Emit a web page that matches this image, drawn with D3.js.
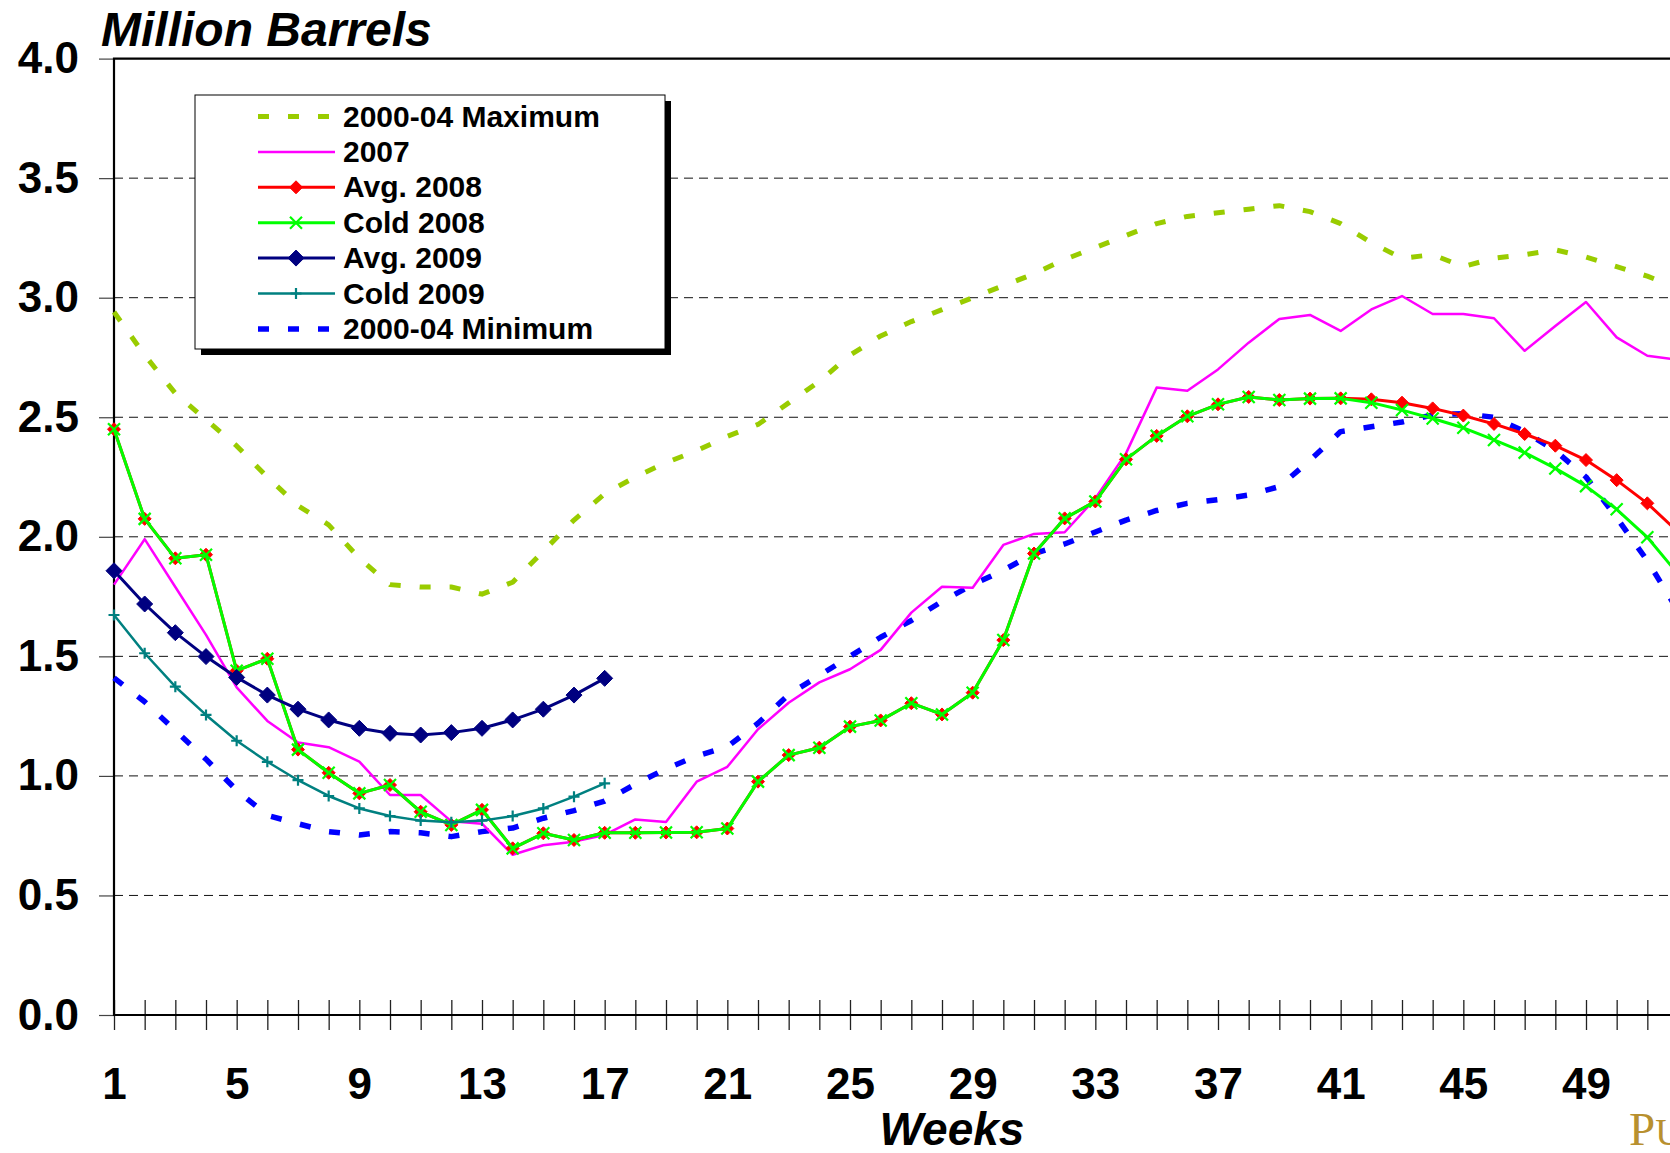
<!DOCTYPE html>
<html>
<head>
<meta charset="utf-8">
<script src="https://cdn.jsdelivr.net/npm/d3@7"></script>
<style>
body { margin: 0; background: #fff; }
svg { display: block; }
</style>
</head>
<body>
<div id="chart"></div>
<script>
// Weekly inventory, million barrels.
var weeks = d3.range(1, 53);
var xTickLabels = [1, 5, 9, 13, 17, 21, 25, 29, 33, 37, 41, 45, 49];
var yTicks = [0, 0.5, 1, 1.5, 2, 2.5, 3, 3.5, 4];
var gridValues = [0.5, 1, 1.5, 2, 2.5, 3, 3.5];

var max0004 = [2.94, 2.76, 2.60, 2.49, 2.38, 2.25, 2.13, 2.05, 1.91, 1.80,
    1.79, 1.79, 1.76, 1.81, 1.94, 2.07, 2.18, 2.25, 2.31, 2.36,
    2.42, 2.47, 2.56, 2.65, 2.76, 2.84, 2.90, 2.95, 3.00, 3.05,
    3.10, 3.16, 3.21, 3.26, 3.31, 3.34, 3.355, 3.37, 3.385, 3.36,
    3.31, 3.23, 3.165, 3.18, 3.13, 3.165, 3.18, 3.20, 3.17, 3.13,
    3.09, 3.04];

var min0004 = [1.41, 1.31, 1.19, 1.07, 0.94, 0.835, 0.80, 0.767, 0.753, 0.767,
    0.762, 0.746, 0.767, 0.782, 0.823, 0.855, 0.895, 0.965, 1.03, 1.083,
    1.122, 1.22, 1.34, 1.42, 1.50, 1.58, 1.65, 1.73, 1.80, 1.86,
    1.93, 1.97, 2.02, 2.07, 2.11, 2.14, 2.155, 2.175, 2.21, 2.32,
    2.44, 2.46, 2.48, 2.51, 2.515, 2.50, 2.44, 2.36, 2.25, 2.08,
    1.90, 1.69];

var y2007 = [1.80, 1.99, 1.79, 1.59, 1.37, 1.23, 1.14, 1.12, 1.06, 0.92,
    0.92, 0.81, 0.80, 0.67, 0.71, 0.725, 0.753, 0.818, 0.807, 0.976,
    1.038, 1.195, 1.306, 1.391, 1.446, 1.527, 1.683, 1.791, 1.787, 1.966,
    2.012, 2.019, 2.16, 2.349, 2.624, 2.611, 2.70, 2.812, 2.911, 2.928,
    2.861, 2.951, 3.007, 2.932, 2.932, 2.914, 2.778, 2.882, 2.982, 2.834,
    2.757, 2.74];

var avg2008 = [2.45, 2.075, 1.91, 1.925, 1.44, 1.49, 1.11, 1.013, 0.927, 0.962,
    0.85, 0.795, 0.858, 0.697, 0.76, 0.732, 0.762, 0.762, 0.763, 0.764,
    0.78, 0.976, 1.087, 1.118, 1.206, 1.232, 1.304, 1.257, 1.348, 1.568,
    1.93, 2.077, 2.148, 2.324, 2.422, 2.504, 2.554, 2.585, 2.572, 2.578,
    2.579, 2.575, 2.561, 2.537, 2.507, 2.472, 2.43, 2.381, 2.321, 2.237,
    2.14, 2.02];

var cold2008 = [2.45, 2.075, 1.91, 1.925, 1.44, 1.49, 1.11, 1.013, 0.927, 0.962,
    0.85, 0.795, 0.858, 0.697, 0.76, 0.732, 0.762, 0.762, 0.763, 0.764,
    0.78, 0.976, 1.087, 1.118, 1.206, 1.232, 1.304, 1.257, 1.348, 1.568,
    1.93, 2.077, 2.148, 2.324, 2.422, 2.504, 2.554, 2.585, 2.572, 2.578,
    2.579, 2.561, 2.530, 2.495, 2.456, 2.405, 2.352, 2.286, 2.212, 2.115,
    1.998, 1.844];

var avg2009 = [1.858, 1.719, 1.599, 1.499, 1.412, 1.338, 1.279, 1.234, 1.199, 1.178,
    1.171, 1.181, 1.199, 1.234, 1.279, 1.338, 1.408];

var cold2009 = [1.673, 1.513, 1.373, 1.255, 1.147, 1.059, 0.982, 0.916, 0.864, 0.832,
    0.813, 0.806, 0.813, 0.832, 0.864, 0.913, 0.969];

/* Layout and styling of the chart
** plot: pixel frame of the plotting area (right side runs off the picture)
*/
var config = {
    width: 1670,
    height: 1153,
    plot: { left: 114, right: 1678, top: 58.6, bottom: 1015 },
    font: '"Liberation Sans", Arial, Helvetica, sans-serif',
    tickFontSize: 44,
    legendFontSize: 30,
    legend: { x: 195, y: 95, width: 470, height: 254, shadow: 6, rowStart: 116.5, rowStep: 35.4 }
};

// series table, in drawing order; legendIndex is the position in the legend
var series = [
    { name: "2000-04 Maximum", values: max0004, color: "#99CC00", width: 5, dash: "11,19", marker: null, legendIndex: 0 },
    { name: "2000-04 Minimum", values: min0004, color: "#0000FF", width: 5.5, dash: "11,19", marker: null, legendIndex: 6 },
    { name: "2007", values: y2007, color: "#FF00FF", width: 2.5, dash: null, marker: null, legendIndex: 1 },
    { name: "Avg. 2008", values: avg2008, color: "#FF0000", width: 3, dash: null, marker: "diamond", size: 6.5, legendIndex: 2 },
    { name: "Cold 2008", values: cold2008, color: "#00FF00", width: 3, dash: null, marker: "x", size: 6, legendIndex: 3 },
    { name: "Avg. 2009", values: avg2009, color: "#000080", width: 3, dash: null, marker: "diamond", size: 8, legendIndex: 4 },
    { name: "Cold 2009", values: cold2009, color: "#008080", width: 2.5, dash: null, marker: "plus", size: 5.5, legendIndex: 5 }
];

// path for each marker kind, centred on 0,0
function markerPath(kind, s) {
    if (kind == "diamond") return "M0," + (-s) + "L" + s + ",0L0," + s + "L" + (-s) + ",0Z";
    if (kind == "x") return "M" + (-s) + "," + (-s) + "L" + s + "," + s + "M" + (-s) + "," + s + "L" + s + "," + (-s);
    return "M" + (-s) + ",0L" + s + ",0M0," + (-s) + "L0," + s;
}

function drawMarker(sel, d) {
    var filled = d.marker == "diamond";
    sel.attr("d", markerPath(d.marker, d.size))
        .attr("fill", filled ? d.color : "none")
        .attr("stroke", d.color)
        .attr("stroke-width", filled ? 1 : 2.2);
}

function draw(div) {
    var p = config.plot;
    var svg = d3.select(div).append("svg")
        .attr("width", config.width)
        .attr("height", config.height)
        .style("font-family", config.font);

    var x = d3.scaleLinear().domain([1, 52]).range([p.left, p.right]);
    var y = d3.scaleLinear().domain([0, 4]).range([p.bottom, p.top]);

    // dashed gridlines
    svg.append("g").selectAll("line")
        .data(gridValues)
        .enter().append("line")
        .attr("x1", p.left).attr("x2", config.width)
        .attr("y1", function (d) { return y(d); })
        .attr("y2", function (d) { return y(d); })
        .attr("stroke", "#111")
        .attr("stroke-width", 1)
        .attr("stroke-dasharray", "9,6");

    // y axis ticks and labels
    var yAxis = svg.append("g")
        .attr("transform", "translate(" + p.left + ",0)")
        .call(d3.axisLeft(y).tickValues(yTicks).tickSize(15).tickPadding(20).tickFormat(d3.format(".1f")));
    yAxis.select(".domain").remove();
    yAxis.selectAll(".tick line").attr("stroke", "#444").attr("stroke-width", 1.2);
    yAxis.selectAll(".tick text")
        .attr("font-family", config.font)
        .attr("font-size", config.tickFontSize)
        .attr("font-weight", "bold")
        .attr("fill", "#000");

    // x axis: a crossing tick for every week, a label every 4 weeks
    var xAxis = svg.append("g")
        .attr("transform", "translate(0," + p.bottom + ")")
        .call(d3.axisBottom(x).tickValues(weeks).tickSize(15).tickFormat(""));
    xAxis.select(".domain").remove();
    xAxis.selectAll(".tick line").attr("y1", -15).attr("stroke", "#222").attr("stroke-width", 1.3);

    var xLabels = svg.append("g")
        .attr("transform", "translate(0," + p.bottom + ")")
        .call(d3.axisBottom(x).tickValues(xTickLabels).tickSize(0).tickFormat(d3.format("d")));
    xLabels.select(".domain").remove();
    xLabels.selectAll(".tick text")
        .attr("y", 84).attr("dy", null)
        .attr("font-family", config.font)
        .attr("font-size", config.tickFontSize)
        .attr("font-weight", "bold")
        .attr("fill", "#000");

    // plot frame: left, bottom and top edges
    svg.append("path")
        .attr("d", "M" + config.width + "," + p.top + "H" + p.left + "V" + p.bottom + "H" + config.width)
        .attr("fill", "none")
        .attr("stroke", "#000")
        .attr("stroke-width", 2.2);

    // the series
    var line = d3.line()
        .x(function (d, i) { return x(weeks[i]); })
        .y(function (d) { return y(d); });

    series.forEach(function (s) {
        var g = svg.append("g");
        g.append("path")
            .attr("d", line(s.values))
            .attr("fill", "none")
            .attr("stroke", s.color)
            .attr("stroke-width", s.width)
            .attr("stroke-dasharray", s.dash)
            .attr("stroke-linejoin", "round");
        if (s.marker) {
            g.selectAll(".m")
                .data(s.values)
                .enter().append("path")
                .attr("transform", function (d, i) { return "translate(" + x(weeks[i]) + "," + y(d) + ")"; })
                .each(function () { drawMarker(d3.select(this), s); });
        }
    });

    // legend box with drop shadow
    var L = config.legend;
    var legend = svg.append("g");
    legend.append("rect")
        .attr("x", L.x + L.shadow).attr("y", L.y + L.shadow)
        .attr("width", L.width).attr("height", L.height)
        .attr("fill", "#000");
    legend.append("rect")
        .attr("x", L.x).attr("y", L.y)
        .attr("width", L.width).attr("height", L.height)
        .attr("fill", "#fff")
        .attr("stroke", "#000")
        .attr("stroke-width", 1);

    var rows = legend.selectAll(".row")
        .data(series.slice().sort(function (a, b) { return a.legendIndex - b.legendIndex; }))
        .enter().append("g")
        .attr("transform", function (d, i) { return "translate(0," + (L.rowStart + i * L.rowStep) + ")"; });

    rows.append("line")
        .attr("x1", 258).attr("x2", 335)
        .attr("stroke", function (d) { return d.color; })
        .attr("stroke-width", function (d) { return d.width; })
        .attr("stroke-dasharray", function (d) { return d.dash; });

    rows.filter(function (d) { return d.marker; })
        .append("path")
        .attr("transform", "translate(296,0)")
        .each(function (d) { drawMarker(d3.select(this), d); });

    rows.append("text")
        .attr("x", 343)
        .attr("y", 10)
        .attr("font-size", config.legendFontSize)
        .attr("font-weight", "bold")
        .text(function (d) { return d.name; });

    // titles
    svg.append("text")
        .attr("x", 101).attr("y", 46)
        .attr("font-size", 48)
        .attr("font-weight", "bold")
        .attr("font-style", "italic")
        .text("Million Barrels");

    svg.append("text")
        .attr("x", 952).attr("y", 1145)
        .attr("text-anchor", "middle")
        .attr("font-size", 46)
        .attr("font-weight", "bold")
        .attr("font-style", "italic")
        .text("Weeks");

    // corner logo, cut off by the edge of the picture
    var logo = svg.append("text")
        .attr("x", 1629).attr("y", 1145)
        .attr("font-family", '"Liberation Serif", "Times New Roman", serif')
        .attr("fill", "#B8902F");
    logo.append("tspan").attr("font-size", 47).text("P");
    logo.append("tspan").attr("font-size", 37).text("URVIN");
}

draw('#chart');
</script>
</body>
</html>
